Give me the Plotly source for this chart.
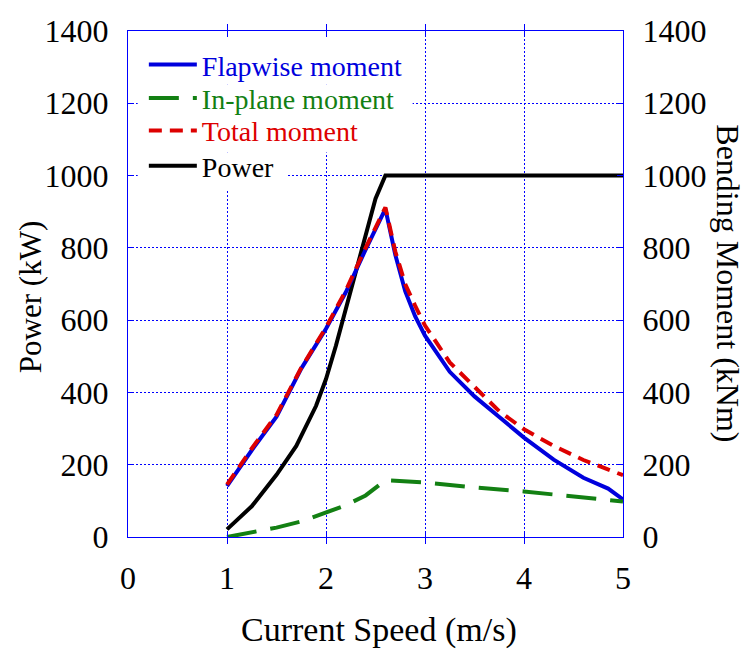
import plotly.graph_objects as go

# ---- data ----
speed_power = [1.0, 1.25, 1.5, 1.7, 1.9, 2.0, 2.1, 2.2, 2.3, 2.4, 2.5, 2.6, 5.0]
power_kw = [21, 85, 172, 252, 363, 437, 529, 631, 742, 834, 936, 1000, 1000]

speed_moment = [1.0, 1.25, 1.5, 1.75, 2.0, 2.2, 2.4, 2.5, 2.6, 2.7, 2.8, 2.9, 3.0,
                3.25, 3.5, 3.75, 4.0, 4.3, 4.6, 4.85, 5.0]
flapwise = [141, 240, 333, 466, 576, 677, 795, 853, 908, 781, 680, 611, 557,
            457, 389, 332, 275, 214, 164, 134, 104]
total = [145, 245, 338, 468, 580, 682, 800, 858, 912, 790, 700, 640, 585,
         483, 414, 348, 298, 252, 213, 185, 171]

speed_inplane = [1.0, 1.25, 1.5, 1.75, 2.0, 2.2, 2.4, 2.6, 3.0, 3.5, 4.0, 4.5, 5.0]
inplane = [0, 12, 26, 43, 67, 88, 115, 157, 151, 137, 126, 112, 98]

x_ticks = [0, 1, 2, 3, 4, 5]
y_ticks = [0, 200, 400, 600, 800, 1000, 1200, 1400]
X_RANGE = [0, 5]
Y_RANGE = [0, 1400]

FONT = "Liberation Serif, Times New Roman, serif"
BLUE = "#0000ff"

fig = go.Figure()
fig.add_trace(go.Scatter(x=speed_moment, y=flapwise, mode="lines", yaxis="y2",
                         name="<span style='color:#0000dd'>Flapwise moment</span>",
                         legend="legend",
                         line=dict(color="#0000dd", width=4)))
fig.add_trace(go.Scatter(x=speed_inplane, y=inplane, mode="lines", yaxis="y2",
                         name="<span style='color:#138013'>In-plane moment</span>",
                         legend="legend2",
                         line=dict(color="#138013", width=4, dash="30px,14px")))
fig.add_trace(go.Scatter(x=speed_moment, y=total, mode="lines", yaxis="y2",
                         name="<span style='color:#dd0000'>Total moment</span>",
                         legend="legend3",
                         line=dict(color="#dd0000", width=4, dash="13px,8px")))
fig.add_trace(go.Scatter(x=speed_power, y=power_kw, mode="lines",
                         name="Power", legend="legend4",
                         line=dict(color="black", width=4)))

# white masks behind each legend row (the reference hides the grid there);
# given as fractions of the plot area
masks = [(0.0196, 0.557, 0.894, 0.987), (0.0196, 0.575, 0.827, 0.894),
         (0.0196, 0.468, 0.760, 0.827), (0.0196, 0.321, 0.685, 0.760)]
xs = X_RANGE[1] - X_RANGE[0]
ys = Y_RANGE[1] - Y_RANGE[0]
for fx0, fx1, fy0, fy1 in masks:
    fig.add_shape(type="rect", xref="x", yref="y",
                  x0=X_RANGE[0] + fx0 * xs, x1=X_RANGE[0] + fx1 * xs,
                  y0=Y_RANGE[0] + fy0 * ys, y1=Y_RANGE[0] + fy1 * ys,
                  fillcolor="white", line=dict(width=0), layer="between")

axis_common = dict(
    showgrid=True, gridcolor=BLUE, gridwidth=1, griddash="2px,2px",
    showline=True, linecolor=BLUE, linewidth=1,
    ticks="inside", ticklen=6, tickcolor=BLUE, tickwidth=1,
    tickfont=dict(family=FONT, size=32, color="black"),
    zeroline=False, automargin=False,
)


def legend_box(ymid):
    return dict(x=0.032, y=ymid, xanchor="left", yanchor="middle",
                bgcolor="rgba(0,0,0,0)", borderwidth=0,
                font=dict(family=FONT, size=28, color="black"),
                itemwidth=48)


fig.update_layout(
    width=751, height=652,
    margin=dict(l=128, r=128, t=31, b=115),
    paper_bgcolor="white", plot_bgcolor="white",
    font=dict(family=FONT, color="black"),
    xaxis=dict(range=X_RANGE, tickvals=x_ticks, mirror="allticks",
               ticklabelstandoff=13, **axis_common),
    yaxis=dict(range=Y_RANGE, tickvals=y_ticks, mirror=True,
               ticklabelstandoff=12, **axis_common),
    yaxis2=dict(range=Y_RANGE, tickvals=y_ticks, overlaying="y", side="right",
                showgrid=False, showline=True, linecolor=BLUE, linewidth=1,
                ticks="inside", ticklen=6, tickcolor=BLUE,
                tickfont=dict(family=FONT, size=32, color="black"),
                ticklabelstandoff=12, zeroline=False, automargin=False),
    showlegend=True,
    legend=legend_box(0.933),
    legend2=legend_box(0.867),
    legend3=legend_box(0.803),
    legend4=legend_box(0.733),
    annotations=[
        dict(text="Power (kW)", xref="paper", yref="paper", x=-0.198, y=0.474,
             textangle=-90, showarrow=False, xanchor="center", yanchor="middle",
             font=dict(family=FONT, size=31, color="black")),
        dict(text="Bending Moment (kNm)", xref="paper", yref="paper", x=1.2115, y=0.502,
             textangle=90, showarrow=False, xanchor="center", yanchor="middle",
             font=dict(family=FONT, size=32, color="black")),
        dict(text="Current Speed (m/s)", xref="paper", yref="paper", x=0.5065, y=-0.183,
             showarrow=False, xanchor="center", yanchor="middle",
             font=dict(family=FONT, size=34, color="black")),
    ],
)

fig.write_html("out.html")
